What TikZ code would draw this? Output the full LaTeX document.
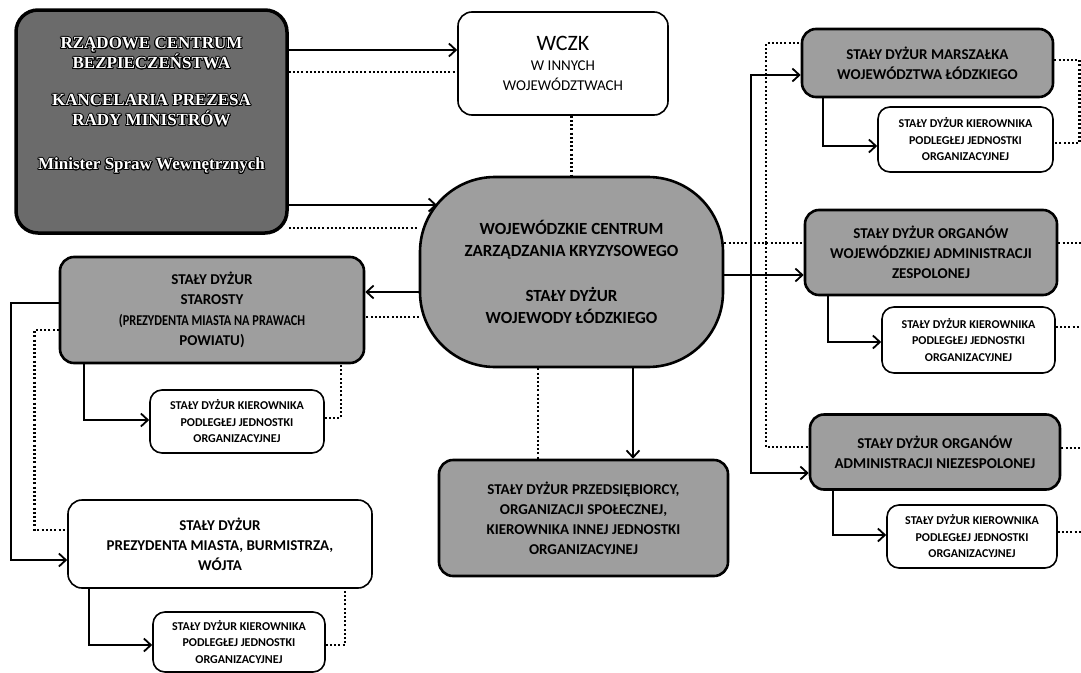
\documentclass[tikz,border=0pt]{standalone}
\usepackage{fontspec}
\usepackage[copies]{contour}
\usetikzlibrary{arrows.meta}
\newfontfamily\carlito{Carlito}
\newfontfamily\timesfont{Liberation Serif}
\contourlength{0.9pt}
\newcommand{\rcbfont}{\timesfont\bfseries\fontsize{17}{20}\selectfont}
\newcommand{\ftbig}{\carlito\bfseries\fontsize{17}{22}\selectfont}
\newcommand{\ftmid}{\carlito\bfseries\fontsize{15}{20}\selectfont}
\newcommand{\ftstar}{\carlito\bfseries\fontsize{15}{20.5}\selectfont}
\newcommand{\ftsmall}{\carlito\bfseries\fontsize{12}{16.5}\selectfont}
\newcommand{\ftwczk}{\carlito\fontsize{15}{20}\selectfont}

\begin{document}
\begin{tikzpicture}[x=1pt, y=-1pt]
	\tikzstyle{darkbox} = [draw, line width=3.5pt, rounded corners=22pt, fill=black!58, inner sep=0pt]
	\tikzstyle{graybox} = [draw, line width=2.6pt, rounded corners=14pt, fill=black!38, align=center, inner sep=0pt]
	\tikzstyle{whitebox} = [draw, line width=1.6pt, rounded corners=12pt, fill=white, align=center, inner sep=0pt]
	\tikzstyle{kierbox} = [whitebox, font=\ftsmall]
	\tikzstyle{arr} = [-{Straight Barb[length=7pt,width=13pt]}, line width=1.8pt]
	\tikzstyle{dotline} = [line width=2.6pt, dash pattern=on 2pt off 2.2pt]
	\fill[white] (0,0) rectangle (1081,672);
	\useasboundingbox (0,0) rectangle (1081,672);
	% top left
	\node[darkbox, minimum width=271pt, minimum height=223pt] (RCB) at (151.5,121.5) {};
	\node[text=white, align=center, font=\rcbfont] (RCBtext) at (151.5,106) {\contour{black}{RZĄDOWE CENTRUM}\\\contour{black}{BEZPIECZEŃSTWA}\\[17pt]\contour{black}{KANCELARIA PREZESA}\\\contour{black}{RADY MINISTRÓW}\\[24pt]\contour{black}{Minister Spraw Wewnętrznych}};
	\node[whitebox, rounded corners=14pt, minimum width=210pt, minimum height=103pt, font=\ftwczk] (WCZK) at (563,63.5) {{\fontsize{22}{26}\selectfont WCZK}\\W INNYCH\\WOJEWÓDZTWACH};
	\node[graybox, rounded corners=75pt, minimum width=303pt, minimum height=190pt, font=\ftbig] (Centrum) at (571.5,272) {WOJEWÓDZKIE CENTRUM\\ZARZĄDZANIA KRYZYSOWEGO\\[23pt]STAŁY DYŻUR\\WOJEWODY ŁÓDZKIEGO};
	% left
	\node[graybox, minimum width=304pt, minimum height=106pt, font=\ftstar] (Starosta) at (212,310) {STAŁY DYŻUR\\STAROSTY\\\scalebox{0.82}[1]{(PREZYDENTA MIASTA NA PRAWACH}\\POWIATU)};
	\node[kierbox, minimum width=174pt, minimum height=63pt] (KierStarosta) at (237,421.5) {STAŁY DYŻUR KIEROWNIKA\\PODLEGŁEJ JEDNOSTKI\\ORGANIZACYJNEJ};
	\node[whitebox, rounded corners=14pt, minimum width=304pt, minimum height=88pt, font=\ftmid] (Gmina) at (220,544) {STAŁY DYŻUR\\PREZYDENTA MIASTA, BURMISTRZA,\\WÓJTA};
	\node[kierbox, minimum width=172pt, minimum height=60pt] (KierGmina) at (239,642) {STAŁY DYŻUR KIEROWNIKA\\PODLEGŁEJ JEDNOSTKI\\ORGANIZACYJNEJ};
	% bottom middle
	\node[graybox, minimum width=289pt, minimum height=116pt, font=\ftmid] (Przeds) at (583.5,518) {STAŁY DYŻUR PRZEDSIĘBIORCY,\\ORGANIZACJI SPOŁECZNEJ,\\KIEROWNIKA INNEJ JEDNOSTKI\\ORGANIZACYJNEJ};
	% right
	\node[graybox, minimum width=251pt, minimum height=68pt, font=\ftmid] (Marszalek) at (927.5,63) {STAŁY DYŻUR MARSZAŁKA\\WOJEWÓDZTWA ŁÓDZKIEGO};
	\node[kierbox, minimum width=175pt, minimum height=65pt] (KierMarszalek) at (965.5,139.5) {STAŁY DYŻUR KIEROWNIKA\\PODLEGŁEJ JEDNOSTKI\\ORGANIZACYJNEJ};
	\node[graybox, minimum width=252pt, minimum height=85pt, font=\ftmid] (Zespolona) at (931,252.5) {STAŁY DYŻUR ORGANÓW\\WOJEWÓDZKIEJ ADMINISTRACJI\\ZESPOLONEJ};
	\node[kierbox, minimum width=173pt, minimum height=66pt] (KierZespolona) at (968.5,340) {STAŁY DYŻUR KIEROWNIKA\\PODLEGŁEJ JEDNOSTKI\\ORGANIZACYJNEJ};
	\node[graybox, minimum width=250pt, minimum height=75pt, font=\ftmid] (Niezespolona) at (935,452) {STAŁY DYŻUR ORGANÓW\\ADMINISTRACJI NIEZESPOLONEJ};
	\node[kierbox, minimum width=170pt, minimum height=63pt] (KierNiezespolona) at (972,536.5) {STAŁY DYŻUR KIEROWNIKA\\PODLEGŁEJ JEDNOSTKI\\ORGANIZACYJNEJ};
	% points on lines
	\coordinate (CentrumNW) at (437,205);
	\coordinate (Pien) at (751,275);
	\coordinate (PienDot) at (766,243);
	\coordinate (EndZespolona) at (1081,243);
	\coordinate (EndKierZespolona) at (1081,327);
	\coordinate (EndNiezespolona) at (1081,448);
	\coordinate (EndKierNiezespolona) at (1081,532);
	% links
	\draw [arr] (RCB.east |- 0,50)--(WCZK.west |- 0,50);
	\draw [dotline] (RCB.east |- 0,72)--(WCZK.west |- 0,72);
	\draw [arr] (RCB.east |- 0,205)--(CentrumNW);
	\draw [dotline] (RCB.east |- 0,228)--(Centrum.west |- 0,228);
	\draw [dotline] (WCZK.south -| Centrum.north)--(Centrum.north);
	\draw [arr] (Centrum.west |- 0,292)--(Starosta.east |- 0,292);
	\draw [dotline] (Centrum.west |- 0,317)--(Starosta.east |- 0,317);
	\draw [arr] (Centrum.south -| 633,0)--(Przeds.north -| 633,0);
	\draw [dotline] (Centrum.south -| 538,0)--(Przeds.north -| 538,0);
	\draw [arr] (Centrum.east |- Pien)--(Zespolona.west |- Pien);
	\draw [arr] (Pien) |- (Marszalek.west |- 0,75);
	\draw [arr] (Pien) |- (Niezespolona.west |- 0,473);
	\draw [dotline] (Centrum.east |- PienDot)--(Zespolona.west |- PienDot);
	\draw [dotline] (PienDot) |- (Marszalek.west |- 0,43);
	\draw [dotline] (PienDot) |- (Niezespolona.west |- 0,447);
	\draw [dotline] (Zespolona.east |- EndZespolona)--(EndZespolona);
	\draw [dotline] (Niezespolona.east |- EndNiezespolona)--(EndNiezespolona);
	\draw [arr] (Marszalek.south -| 823,0) |- (KierMarszalek.west |- 0,146);
	\draw [dotline] (Marszalek.east |- 0,60)--++(25,0) |- (KierMarszalek.east |- 0,143);
	\draw [arr] (Zespolona.south -| 828,0) |- (KierZespolona.west |- 0,342);
	\draw [dotline] (KierZespolona.east |- EndKierZespolona)--(EndKierZespolona);
	\draw [arr] (Niezespolona.south -| 833,0) |- (KierNiezespolona.west |- 0,535);
	\draw [dotline] (KierNiezespolona.east |- EndKierNiezespolona)--(EndKierNiezespolona);
	\draw [arr] (Starosta.south -| 84,0) |- (KierStarosta.west |- 0,420);
	\draw [dotline] (KierStarosta.east |- 0,418) -| (Starosta.south -| 341,0);
	\draw [arr] (Starosta.west |- 0,303)--++(-48,0) |- (Gmina.west |- 0,560);
	\draw [dotline] (Starosta.west |- 0,330)--++(-24,0) |- (Gmina.west |- 0,530);
	\draw [arr] (Gmina.south -| 89,0) |- (KierGmina.west |- 0,645);
	\draw [dotline] (KierGmina.east |- 0,645) -| (Gmina.south -| 345,0);
\end{tikzpicture}
\end{document}
